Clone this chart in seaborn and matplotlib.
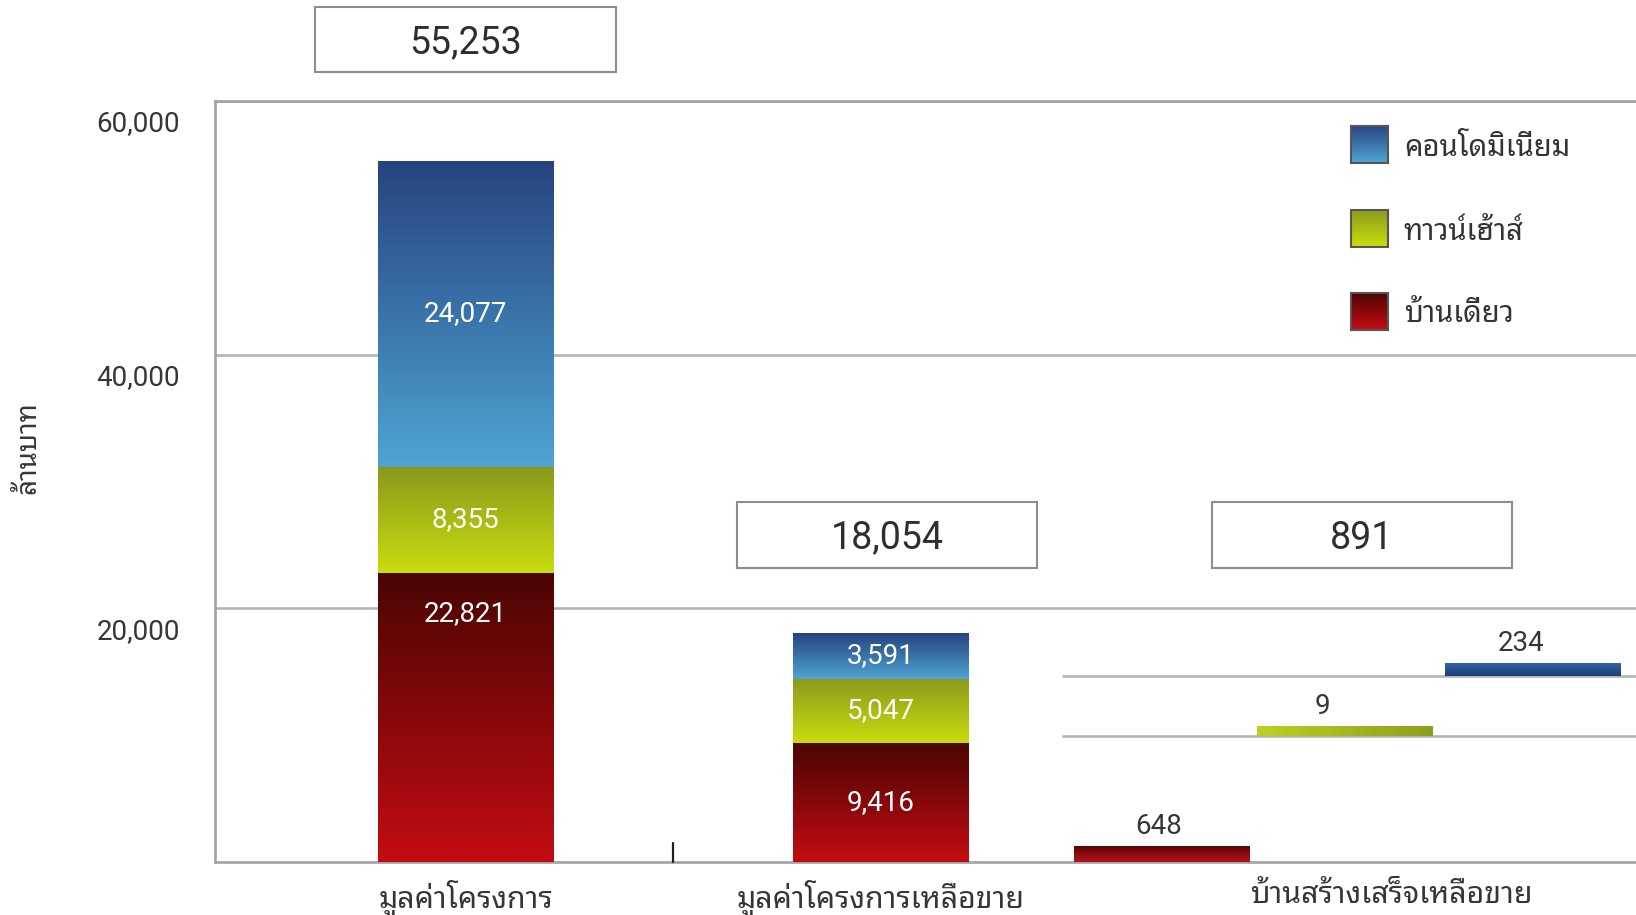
import numpy as np
import pandas as pd
import seaborn as sns
import matplotlib
matplotlib.use("Agg")
import matplotlib.pyplot as plt
from matplotlib import font_manager as fm
from matplotlib import transforms as mtrans
from matplotlib.patches import Rectangle
from matplotlib.colors import to_rgb

# ---- data -------------------------------------------------------------
categories = ["มูลค่าโครงการ", "มูลค่าโครงการเหลือขาย", "บ้านสร้างเสร็จเหลือขาย"]
series_names = ["คอนโดมิเนียม", "ทาวน์เฮ้าส์", "บ้านเดี่ยว"]
condo = [24077, 3591, 234]
townhouse = [8355, 5047, 9]
detached = [22821, 9416, 648]
y_ticks = [20000, 40000, 60000]
y_label = "ล้านบาท"

totals = [c + t + d for c, t, d in zip(condo, townhouse, detached)]


# ---- fonts ------------------------------------------------------------
def thai_family():
    preferred = ["Noto Sans Thai Looped", "Tahoma", "Garuda", "Loma",
                 "Noto Sans Thai", "Sarabun", "Waree", "Umpush",
                 "Kinnari", "Norasi", "Laksaman", "Noto Serif Thai"]
    found = set()
    try:
        from fontTools.ttLib import TTFont
        for f in fm.fontManager.ttflist:
            try:
                kw = {"fontNumber": 0} if f.fname.lower().endswith((".ttc", ".otc")) else {}
                tt = TTFont(f.fname, lazy=True, **kw)
                cmap = tt.getBestCmap() or {}
                if 0x0E01 in cmap and 0x0E32 in cmap and 0x0E49 in cmap:
                    found.add(f.name)
                tt.close()
            except Exception:
                pass
    except ImportError:
        pass
    for p in preferred:
        if p in found:
            return p
    return sorted(found)[0] if found else "DejaVu Sans"


sns.set_theme(style="white")
THAI = thai_family()
NUM = "Roboto"
thai_fam = [THAI, NUM, "DejaVu Sans"]
num_fam = [NUM, "DejaVu Sans"]
plt.rcParams["font.family"] = num_fam

TXT = "#363636"
GRID = "#b4b4b4"

# gradient colours (top, bottom) per series
grad_cols = {
    "condo": ("#26437f", "#4ea4d3"),
    "townhouse": ("#8a991c", "#c9dd0e"),
    "detached": ("#4a0503", "#c30c12"),
}
mid_cols = {k: tuple((np.array(to_rgb(a)) + np.array(to_rgb(b))) / 2)
            for k, (a, b) in grad_cols.items()}


def gradient(top, bottom, n=256, horizontal=False):
    t = np.linspace(0, 1, n)[:, None]
    a, b = np.array(to_rgb(top)), np.array(to_rgb(bottom))
    g = a[None, :] * (1 - t) + b[None, :] * t
    if horizontal:
        return g[None, :, :]
    return g[:, None, :]


# ---- figure -----------------------------------------------------------
W, H = 1636, 915
fig = plt.figure(figsize=(W / 100, H / 100), dpi=100)
fig.patch.set_facecolor("white")
ax = fig.add_axes([215 / W, 53 / H, 1421 / W, 761 / H])
ax.set_facecolor("white")


def px_shift(dx, dy):
    return mtrans.ScaledTranslation(dx / 100, dy / 100, fig.dpi_scale_trans)


bar_w = 0.422
main_pos = [0, 1]
d_main = np.array(detached[:2], dtype=float)
t_main = np.array(townhouse[:2], dtype=float)
c_main = np.array(condo[:2], dtype=float)
cum_layers = [
    (d_main + t_main + c_main, "condo"),
    (d_main + t_main, "townhouse"),
    (d_main, "detached"),
]
for cum, key in cum_layers:
    df = pd.DataFrame({"pos": main_pos, "value": cum})
    sns.barplot(data=df, x="pos", y="value", native_scale=True, width=bar_w,
                color=mid_cols[key], saturation=1, linewidth=0,
                errorbar=None, ax=ax, zorder=2)

# gradient fill on each stacked segment
seg_series = [("detached", detached), ("townhouse", townhouse), ("condo", condo)]
for i, x in enumerate(main_pos):
    bottom = 0.0
    for key, vals in seg_series:
        v = vals[i]
        ax.imshow(gradient(*grad_cols[key]), extent=(x - bar_w / 2, x + bar_w / 2, bottom, bottom + v),
                  aspect="auto", interpolation="bilinear", zorder=3)
        # value label inside the segment
        frac = 0.86 if (i == 0 and key == "detached") else 0.5
        ax.text(x, bottom + v * frac, f"{v:,}", ha="center", va="center",
                color="white", fontsize=20, zorder=5)
        bottom += v

# third group: small separate bars on their own baselines
stub_keys = ["detached", "townhouse", "condo"]
stub_vals = [detached[2], townhouse[2], condo[2]]
stub_x = [1.678, 2.119, 2.572]
stub_base = [0, 9950, 14650]
stub_w = 0.424
stub_h = [650 + 21 * np.sqrt(v) for v in stub_vals]  # compressed thickness scale
stub_label_dx = [-3, -22, -12]
stub_grad = {
    "detached": ("#5e0202", "#b5141a", False),
    "townhouse": ("#bcd022", "#8d9e1e", True),
    "condo": ("#3264a4", "#1e3e74", False),
}
for base in stub_base[1:]:
    ax.plot([1.437, 2.83], [base, base], color=GRID, lw=1.9, zorder=1,
            solid_capstyle="butt")
ax.bar(stub_x, stub_h, bottom=stub_base, width=stub_w,
       color=[mid_cols[k] for k in stub_keys], linewidth=0, zorder=2)
for x, b, h, k, v, dx in zip(stub_x, stub_base, stub_h, stub_keys, stub_vals, stub_label_dx):
    top, bot, horiz = stub_grad[k]
    ax.imshow(gradient(top, bot, horizontal=horiz),
              extent=(x - stub_w / 2, x + stub_w / 2, b, b + h),
              aspect="auto", interpolation="bilinear", zorder=3)
    ax.annotate(f"{v:,}", (x, b + h), xytext=(dx * 0.72, 9), textcoords="offset points",
                ha="center", va="baseline", fontsize=20, color=TXT, zorder=5)

# ---- axes styling -----------------------------------------------------
ax.set_xlim(-0.6036, 2.8205)
ax.set_ylim(0, 60000)
ax.set_yticks(y_ticks)
ax.set_yticklabels([f"{v:,}" for v in y_ticks], fontsize=20, color=TXT)
ax.yaxis.grid(True, color=GRID, lw=1.9)
ax.xaxis.grid(False)
ax.set_axisbelow(True)
ax.tick_params(axis="y", length=0, pad=25)
ax.tick_params(axis="x", length=0, pad=13)
for lab in ax.get_yticklabels():
    lab.set_transform(lab.get_transform() + px_shift(0, -20))

ax.set_xticks([0, 1, 2.23])
ax.set_xticklabels(categories, fontsize=21.8, color=TXT, family=thai_fam)
ax.set_xlabel("")
ax.set_ylabel("")
fig.text(28 / W, (H - 448) / H, y_label, rotation=90, ha="center", va="center",
         fontsize=20, color=TXT, family=thai_fam)

for side in ["left", "top", "bottom"]:
    ax.spines[side].set_visible(True)
    ax.spines[side].set_color("#a2a2a2")
    ax.spines[side].set_linewidth(1.9)
ax.spines["right"].set_visible(False)

# small separator tick on the baseline
blend = mtrans.blended_transform_factory(ax.transData, ax.transAxes)
ax.plot([0.499, 0.499], [0.0, 0.025], transform=blend, color="#1e1e1e", lw=1.6,
        clip_on=False, zorder=4)

# ---- total boxes ------------------------------------------------------
box_cx = [0.0, 1.016, 2.16]
box_y = [(1.038, 1.124), (0.386, 0.473), (0.386, 0.473)]
box_w = 0.723
for cx, (y0, y1), tot in zip(box_cx, box_y, totals):
    ax.add_patch(Rectangle((cx - box_w / 2, y0), box_w, y1 - y0, transform=blend,
                           facecolor="white", edgecolor="#8e8e8e", lw=1.5,
                           clip_on=False, zorder=6))
    ax.text(cx, (y0 + y1) / 2, f"{tot:,}", transform=blend + px_shift(0, -3),
            ha="center", va="center", fontsize=27, color="#2e2e2e", zorder=7)

# ---- legend -----------------------------------------------------------
legend_rows = [144, 228, 311]
for name, key, yc in zip(series_names, ["condo", "townhouse", "detached"], legend_rows):
    lax = fig.add_axes([1351 / W, (H - yc - 18.5) / H, 37 / W, 37 / H])
    lax.imshow(gradient(*grad_cols[key]), aspect="auto", interpolation="bilinear")
    lax.set_xticks([])
    lax.set_yticks([])
    for s in lax.spines.values():
        s.set_visible(True)
        s.set_color("#555555")
        s.set_linewidth(1.5)
    fig.text(1404 / W, (H - yc - 4) / H, name, ha="left", va="center",
             fontsize=21, fontweight="semibold", color="#333333", family=thai_fam)

fig.savefig("out.png", dpi=100, facecolor="white")
